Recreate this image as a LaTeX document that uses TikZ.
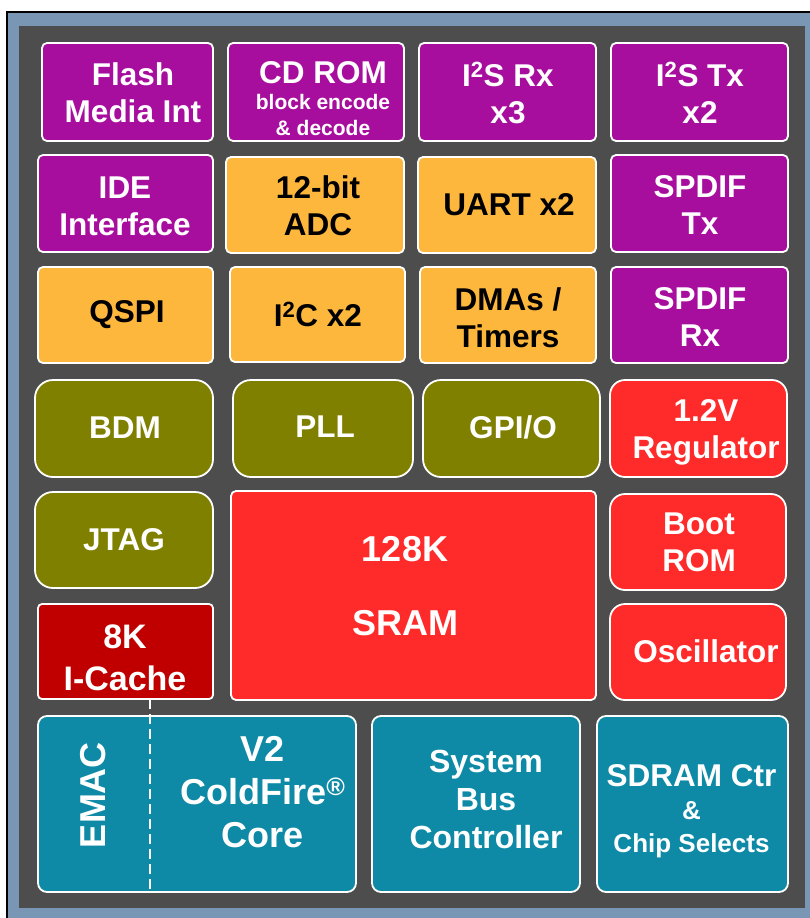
\documentclass[tikz,border=0pt]{standalone}
\usepackage{fontspec}
\setmainfont{Liberation Sans}
\definecolor{cpurple}{RGB}{168,14,158}
\definecolor{corange}{RGB}{253,183,60}
\definecolor{colive}{RGB}{128,128,0}
\definecolor{cred}{RGB}{255,42,42}
\definecolor{cdred}{RGB}{192,0,0}
\definecolor{cteal}{RGB}{14,138,166}
\definecolor{cgray}{RGB}{77,77,77}
\definecolor{cframe}{RGB}{122,150,181}
\tikzset{
  box/.style={draw=white, line width=1.8pt, inner sep=0pt},
  purpbox/.style={box, fill=cpurple, rounded corners=5pt},
  orangebox/.style={box, fill=corange, rounded corners=5pt},
  olivebox/.style={box, fill=colive, rounded corners=18pt},
  redround/.style={box, fill=cred, rounded corners=15pt},
  redsq/.style={box, fill=cred, rounded corners=5pt},
  darkredbox/.style={box, fill=cdred, rounded corners=4pt},
  tealbox/.style={box, fill=cteal, rounded corners=9pt},
  lbl/.style={text=white, inner sep=0pt, align=center, font=\bfseries\fontsize{31.5}{37}\selectfont},
  dlbl/.style={lbl, text=black},
}
\begin{document}
\begin{tikzpicture}[x=1pt,y=-1pt]
\useasboundingbox (0,0) rectangle (810,918);
% frame
\path[fill=cframe, draw=black, line width=1.8pt] (7,12) rectangle (830,940);
\fill[cgray] (19,26) rectangle (805,908);

% row 1
\node[purpbox, minimum width=171, minimum height=98] (flash) at (127.5,92) {};
\node[lbl] (flash-t) at (133,93) {Flash\\Media Int};
\node[purpbox, minimum width=176, minimum height=98] (cdrom) at (316,92) {};
\node[lbl, font=\bfseries\fontsize{21}{26}\selectfont] (cdrom-t) at (323,99) {{\fontsize{31.5}{37}\selectfont CD ROM}\\block encode\\\& decode};
\node[purpbox, minimum width=177, minimum height=98] (i2srx) at (507.5,92) {};
\node[lbl] (i2srx-t) at (508,93) {I\textsuperscript{2}S Rx\\x3};
\node[purpbox, minimum width=177, minimum height=98] (i2stx) at (699.5,92) {};
\node[lbl] (i2stx-t) at (700,93) {I\textsuperscript{2}S Tx\\x2};

% row 2
\node[purpbox, minimum width=175, minimum height=97] (ide) at (125.5,203.5) {};
\node[lbl] (ide-t) at (125,206) {IDE\\Interface};
\node[orangebox, minimum width=178, minimum height=96] (adc) at (315,205) {};
\node[dlbl] (adc-t) at (318,206) {12-bit\\ADC};
\node[orangebox, minimum width=178, minimum height=96] (uart) at (507,205) {};
\node[dlbl] (uart-t) at (509,205) {UART x2};
\node[purpbox, minimum width=177, minimum height=97] (spdiftx) at (699.5,203.5) {};
\node[lbl] (spdiftx-t) at (700,205) {SPDIF\\Tx};

% row 3
\node[orangebox, minimum width=175, minimum height=96] (qspi) at (125.5,315) {};
\node[dlbl] (qspi-t) at (127,315) {QSPI};
\node[orangebox, minimum width=175, minimum height=95] (i2c) at (317.5,314.5) {};
\node[dlbl] (i2c-t) at (318,314) {I\textsuperscript{2}C x2};
\node[orangebox, minimum width=176, minimum height=96] (dma) at (508,315) {};
\node[dlbl] (dma-t) at (508,318) {DMAs /\\Timers};
\node[purpbox, minimum width=177, minimum height=96] (spdifrx) at (699.5,315) {};
\node[lbl] (spdifrx-t) at (700,317) {SPDIF\\Rx};

% row 4
\node[olivebox, minimum width=178, minimum height=97] (bdm) at (124,428.5) {};
\node[lbl] (bdm-t) at (125,428) {BDM};
\node[olivebox, minimum width=180, minimum height=97] (pll) at (323,428.5) {};
\node[lbl] (pll-t) at (325,427) {PLL};
\node[olivebox, minimum width=177, minimum height=97] (gpio) at (511.5,428.5) {};
\node[lbl] (gpio-t) at (513,427) {GPI/O};
\node[redround, minimum width=177, minimum height=97] (reg) at (698.5,428.5) {};
\node[lbl] (reg-t) at (706,432) {1.2V\\Regulator};

% row 5
\node[olivebox, minimum width=178, minimum height=96] (jtag) at (124,540) {};
\node[lbl] (jtag-t) at (124,540) {JTAG};
\node[redsq, minimum width=365, minimum height=209] (sram) at (413.5,595.5) {};
\node[lbl, font=\bfseries\fontsize{36}{74}\selectfont] (sram-t) at (405,586) {128K\\SRAM};
\node[redround, minimum width=176, minimum height=96] (bootrom) at (698,542) {};
\node[lbl] (bootrom-t) at (699,542) {Boot\\ROM};

% row 6
\node[darkredbox, minimum width=175, minimum height=95] (icache) at (125.5,651.5) {};
\node[lbl, font=\bfseries\fontsize{34}{42}\selectfont] (icache-t) at (125,658) {8K\\I-Cache};
\node[redround, minimum width=176, minimum height=96] (osc) at (698,652) {};
\node[lbl] (osc-t) at (706,651) {Oscillator};

% row 7
\node[tealbox, minimum width=318, minimum height=176] (core) at (197,804) {};
\node[lbl, font=\bfseries\fontsize{36}{43}\selectfont] (core-t) at (263,792) {V2\\ColdFire\textsuperscript{®}\\Core};
\node[lbl, rotate=90, font=\bfseries\fontsize{36}{43}\selectfont] (emac-t) at (93,795) {EMAC};
\node[tealbox, minimum width=208, minimum height=176] (sbc) at (476,804) {};
\node[lbl, font=\bfseries\fontsize{32}{38}\selectfont] (sbc-t) at (486,799) {System\\Bus\\Controller};
\node[tealbox, minimum width=191, minimum height=176] (sdram) at (692.5,804) {};
\node[lbl, font=\bfseries\fontsize{26}{33}\selectfont] (sdram-t) at (691.5,811) {{\fontsize{31.5}{37}\selectfont SDRAM Ctr}\\\&\\Chip Selects};

% EMAC divider
\coordinate (dtop) at (150,699);
\coordinate (dbot) at (150,892);
\draw[white, line width=2.5pt, dash pattern=on 10pt off 5pt] (dtop) -- (dbot);
\end{tikzpicture}
\end{document}
